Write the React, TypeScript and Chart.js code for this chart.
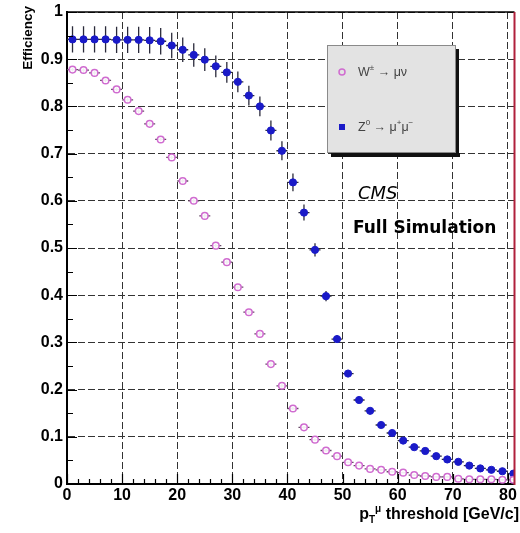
import React, { useEffect, useRef } from "react";
import { Chart, registerables } from "chart.js";

Chart.register(...registerables);

// ---- data ----
const ptBins = [1, 3, 5, 7, 9, 11, 13, 15, 17, 19, 21, 23, 25, 27, 29, 31, 33, 35, 37, 39, 41, 43, 45, 47, 49, 51, 53, 55, 57, 59, 61, 63, 65, 67, 69, 71, 73, 75, 77, 79, 81];
const binHalfWidth = 1;

const wEff = [0.878, 0.877, 0.871, 0.855, 0.836, 0.814, 0.79, 0.763, 0.73, 0.692, 0.642, 0.6, 0.568, 0.505, 0.47, 0.417, 0.364, 0.318, 0.254, 0.208, 0.16, 0.12, 0.094, 0.071, 0.059, 0.046, 0.039, 0.032, 0.03, 0.026, 0.024, 0.019, 0.017, 0.015, 0.015, 0.011, 0.01, 0.01, 0.01, 0.009, 0.009];
const wErr = [0.004, 0.004, 0.004, 0.004, 0.004, 0.004, 0.004, 0.004, 0.004, 0.004, 0.004, 0.004, 0.004, 0.004, 0.004, 0.004, 0.004, 0.004, 0.004, 0.004, 0.003, 0.003, 0.003, 0.003, 0.003, 0.002, 0.002, 0.002, 0.002, 0.002, 0.002, 0.002, 0.002, 0.002, 0.002, 0.002, 0.002, 0.002, 0.002, 0.002, 0.002];

const zEff = [0.942, 0.942, 0.942, 0.942, 0.941, 0.941, 0.941, 0.94, 0.938, 0.929, 0.92, 0.909, 0.899, 0.885, 0.872, 0.852, 0.823, 0.8, 0.749, 0.706, 0.639, 0.575, 0.496, 0.398, 0.307, 0.234, 0.178, 0.155, 0.125, 0.108, 0.092, 0.078, 0.07, 0.059, 0.052, 0.047, 0.039, 0.033, 0.03, 0.027, 0.022];
const zErr = [0.028, 0.028, 0.028, 0.028, 0.028, 0.028, 0.028, 0.028, 0.028, 0.027, 0.026, 0.025, 0.024, 0.023, 0.022, 0.022, 0.021, 0.021, 0.021, 0.02, 0.019, 0.017, 0.014, 0.011, 0.008, 0.006, 0.005, 0.004, 0.004, 0.004, 0.003, 0.003, 0.003, 0.003, 0.003, 0.003, 0.003, 0.003, 0.003, 0.003, 0.003];

const xTickValues = [0, 10, 20, 30, 40, 50, 60, 70, 80];
const xTickLabels = ["0", "10", "20", "30", "40", "50", "60", "70", "80"];
const yTickValues = [0, 0.1, 0.2, 0.3, 0.4, 0.5, 0.6, 0.7, 0.8, 0.9, 1];
const yTickLabels = ["0", "0.1", "0.2", "0.3", "0.4", "0.5", "0.6", "0.7", "0.8", "0.9", "1"];

const X_MIN = 0;
const X_MAX = 81.2;

const FONT = "'Liberation Sans', Arial, Helvetica, sans-serif";
const NARROW = "'Liberation Sans Narrow', 'Liberation Sans', Arial, sans-serif";
const PINK = "#d06cd0";
const BLUE = "#1a1ac8";

function drawRich(ctx: CanvasRenderingContext2D, parts: { t: string; s?: "sup" | "sub" }[], x: number, y: number, size: number, weight: string, family: string, align: "left" | "right") {
  const small = Math.round(size * 0.6);
  const widths = parts.map((p) => {
    ctx.font = `${weight} ${p.s ? small : size}px ${family}`;
    return ctx.measureText(p.t).width;
  });
  const total = widths.reduce((a, b) => a + b, 0);
  let cx = align === "right" ? x - total : x;
  ctx.textBaseline = "alphabetic";
  ctx.textAlign = "left";
  parts.forEach((p, i) => {
    ctx.font = `${weight} ${p.s ? small : size}px ${family}`;
    const dy = p.s === "sup" ? -size * 0.45 : p.s === "sub" ? size * 0.25 : 0;
    ctx.fillText(p.t, cx, y + dy);
    cx += widths[i];
  });
}

const overlay = {
  id: "overlay",
  beforeDatasetsDraw(chart: any) {
    const { ctx, chartArea: a, scales } = chart;
    const xs = scales.x;
    const ys = scales.y;
    ctx.save();
    ctx.beginPath();
    ctx.rect(a.left, a.top, a.right - a.left, a.bottom - a.top);
    ctx.clip();
    chart.data.datasets.forEach((ds: any) => {
      ctx.strokeStyle = ds.errColor;
      ctx.lineWidth = 1.3;
      ds.data.forEach((p: any, j: number) => {
        const px = xs.getPixelForValue(p.x);
        const py = ys.getPixelForValue(p.y);
        const xl = xs.getPixelForValue(p.x - binHalfWidth);
        const xr = xs.getPixelForValue(p.x + binHalfWidth);
        const e = ds.yErr[j];
        ctx.beginPath();
        ctx.moveTo(xl, py);
        ctx.lineTo(xr, py);
        ctx.moveTo(px, ys.getPixelForValue(p.y - e));
        ctx.lineTo(px, ys.getPixelForValue(p.y + e));
        ctx.stroke();
      });
    });
    ctx.restore();
  },
  afterDraw(chart: any) {
    const { ctx, chartArea: a, scales } = chart;
    const xs = scales.x;
    const ys = scales.y;
    ctx.save();
    // minor ticks (inside)
    ctx.strokeStyle = "#000";
    ctx.lineWidth = 1.2;
    ctx.beginPath();
    for (let v = 0; v <= 80; v += 2) {
      const px = Math.round(xs.getPixelForValue(v)) + 0.5;
      const len = v % 10 === 0 ? 10 : 5;
      ctx.moveTo(px, a.bottom);
      ctx.lineTo(px, a.bottom - len);
    }
    for (let k = 0; k <= 20; k++) {
      const py = Math.round(ys.getPixelForValue(k * 0.05)) + 0.5;
      const len = k % 2 === 0 ? 10 : 6;
      ctx.moveTo(a.left, py);
      ctx.lineTo(a.left + len, py);
    }
    ctx.stroke();

    // frame top and right
    ctx.lineWidth = 1.6;
    ctx.strokeStyle = "#000";
    ctx.beginPath();
    ctx.moveTo(a.left, a.top);
    ctx.lineTo(a.right, a.top);
    ctx.stroke();
    ctx.lineWidth = 2;
    ctx.strokeStyle = "#b0203c";
    ctx.beginPath();
    ctx.moveTo(a.right, a.top);
    ctx.lineTo(a.right, a.bottom + 1);
    ctx.stroke();

    // legend box
    const bx = 327, by = 45, bw = 129, bh = 108;
    ctx.fillStyle = "#111";
    ctx.fillRect(bx + 4, by + bh, bw, 4);
    ctx.fillRect(bx + bw, by + 4, 3, bh);
    ctx.fillStyle = "#e3e3e3";
    ctx.fillRect(bx, by, bw, bh);
    ctx.strokeStyle = "#8a8a8a";
    ctx.lineWidth = 1;
    ctx.strokeRect(bx + 0.5, by + 0.5, bw - 1, bh - 1);
    // markers
    ctx.strokeStyle = PINK;
    ctx.lineWidth = 1.5;
    ctx.beginPath();
    ctx.arc(342, 72, 3, 0, Math.PI * 2);
    ctx.stroke();
    ctx.fillStyle = BLUE;
    ctx.fillRect(339, 124, 6, 6);
    ctx.fillStyle = "#444";
    drawRich(ctx, [{ t: "W" }, { t: "±", s: "sup" }, { t: " → μν" }], 358, 76, 12.5, "normal", FONT, "left");
    drawRich(ctx, [{ t: "Z" }, { t: "0", s: "sup" }, { t: " → μ" }, { t: "+", s: "sup" }, { t: "μ" }, { t: "−", s: "sup" }], 358, 131, 12.5, "normal", FONT, "left");

    // CMS labels
    ctx.fillStyle = "#000";
    ctx.textAlign = "left";
    ctx.textBaseline = "alphabetic";
    ctx.font = `italic 18px 'DejaVu Sans', sans-serif`;
    ctx.fillText("CMS", 358, 199);
    ctx.font = `bold 17px 'DejaVu Sans', sans-serif`;
    ctx.fillText("Full Simulation", 353, 233);

    // axis titles
    ctx.fillStyle = "#000";
    drawRich(ctx, [{ t: "p" }, { t: "T", s: "sub" }, { t: "μ", s: "sup" }, { t: " threshold [GeV/c]" }], 519, 519, 16, "bold", FONT, "right");

    ctx.save();
    ctx.translate(32, 6);
    ctx.rotate(-Math.PI / 2);
    ctx.font = `bold 13.5px ${NARROW}`;
    ctx.textAlign = "right";
    ctx.textBaseline = "alphabetic";
    ctx.fillText("Efficiency", 0, 0);
    ctx.restore();

    ctx.restore();
  },
};

export default function App() {
  const ref = useRef<HTMLCanvasElement | null>(null);
  useEffect(() => {
    document.body.style.margin = "0";
    const canvas = ref.current;
    if (!canvas) return;
    const gridColor = (c: any) => (c.tick && (c.tick.value === 0) ? "rgba(0,0,0,0)" : "#333333");
    const chart = new Chart(canvas, {
      type: "scatter",
      data: {
        datasets: [
          {
            label: "W± → μν",
            data: ptBins.map((x, i) => ({ x, y: wEff[i] })),
            yErr: wErr,
            errColor: "#6a4a6a",
            pointStyle: "circle",
            pointRadius: 3.3,
            pointBorderWidth: 1.5,
            pointBorderColor: PINK,
            pointBackgroundColor: "rgba(255,255,255,0.9)",
            showLine: false,
          } as any,
          {
            label: "Z0 → μ+μ-",
            data: ptBins.map((x, i) => ({ x, y: zEff[i] })),
            yErr: zErr,
            errColor: "#2a2a3a",
            pointStyle: "circle",
            pointRadius: 3.6,
            pointBorderWidth: 1,
            pointBorderColor: BLUE,
            pointBackgroundColor: BLUE,
            showLine: false,
          } as any,
        ],
      },
      options: {
        animation: false,
        responsive: false,
        events: [],
        layout: { padding: { top: 12, right: 3.3, left: 0, bottom: 0 } },
        plugins: { legend: { display: false }, tooltip: { enabled: false }, title: { display: false } },
        scales: {
          x: {
            type: "linear",
            min: X_MIN,
            max: X_MAX,
            afterFit: (s: any) => {
              s.height = 49;
              s.paddingLeft = 0;
              s.paddingRight = 0;
            },
            afterBuildTicks: (s: any) => {
              s.ticks = xTickValues.map((v) => ({ value: v }));
            },
            ticks: {
              autoSkip: false,
              maxRotation: 0,
              minRotation: 0,
              padding: 2,
              color: "#000",
              font: { family: FONT, size: 16, weight: "bold" },
              callback: (v: any) => {
                const i = xTickValues.indexOf(Number(v));
                return i >= 0 ? xTickLabels[i] : "";
              },
            },
            grid: { color: gridColor, lineWidth: 1, drawTicks: false },
            border: { display: true, color: "#000", width: 2, dash: [7, 3] },
          },
          y: {
            type: "linear",
            min: 0,
            max: 1,
            afterFit: (s: any) => {
              s.width = 67;
              s.paddingTop = 0;
              s.paddingBottom = 0;
            },
            afterBuildTicks: (s: any) => {
              s.ticks = yTickValues.map((v) => ({ value: v }));
            },
            ticks: {
              autoSkip: false,
              padding: 4,
              color: "#000",
              font: { family: FONT, size: 16, weight: "bold" },
              callback: (v: any) => {
                const i = yTickValues.findIndex((t) => Math.abs(t - Number(v)) < 1e-9);
                return i >= 0 ? yTickLabels[i] : "";
              },
            },
            grid: { color: gridColor, lineWidth: 1, drawTicks: false },
            border: { display: true, color: "#000", width: 2, dash: [7, 3] },
          },
        },
      },
      plugins: [overlay],
    });
    return () => chart.destroy();
  }, []);
  return (
    <div style={{ position: "absolute", left: 0, top: 0, width: 520, height: 533, background: "#fff" }}>
      <canvas ref={ref} width={520} height={533} style={{ display: "block", width: 520, height: 533 }} />
    </div>
  );
}
